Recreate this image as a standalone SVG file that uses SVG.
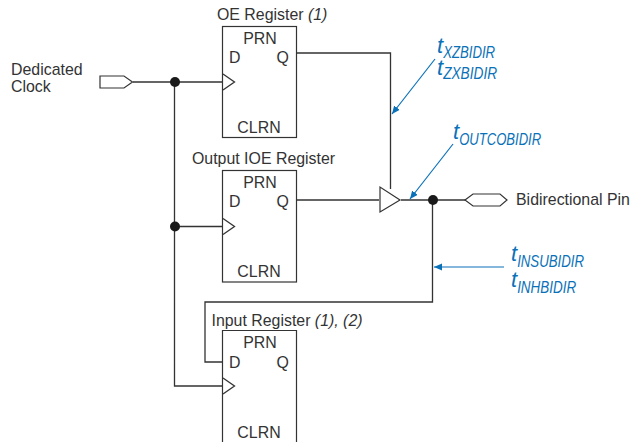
<svg xmlns="http://www.w3.org/2000/svg" width="633" height="442" viewBox="0 0 633 442">
<defs>
<marker id="a" markerUnits="userSpaceOnUse" markerWidth="9" markerHeight="8" refX="8" refY="3.500" orient="auto"><path d="M0 0L8 3.500L0 7Z" fill="#0a71b8"/></marker>
</defs>
<style>
text{font-family:"Liberation Sans",Arial,sans-serif;font-size:15.900px;fill:#333}
.i{font-style:italic}
.b{fill:#fff;stroke:#333;stroke-width:1.2}
.w{fill:none;stroke:#333;stroke-width:1.300}
.t{fill:#0a71b8;font-style:italic;font-size:22px}
.s{font-size:16px;fill:#0a71b8;font-style:italic}
.c{fill:none;stroke:#0a71b8;stroke-width:1.200;marker-end:url(#a)}
.d{fill:#1a1a1a}
.m{text-anchor:middle}
</style>
<g id="connectors">
<path class="w" d="M133 82H222M174.500 82V386H222M174.500 226.500H222M297 53H390.500V189M297 200H379M401 200H466M432.500 200V302H205V362H222"/>
<circle class="d" cx="175" cy="82" r="5"/>
<circle class="d" cx="175" cy="226.500" r="5"/>
<circle class="d" cx="433" cy="200" r="5"/>
</g>
<g id="callouts">
<path class="c" d="M435 59L392 114"/>
<path class="c" d="M453 144L410 199"/>
<path class="c" d="M504 267H434"/>
</g>
<g id="oe-register">
<text x="217" y="20">OE Register <tspan class="i">(1)</tspan></text>
<rect class="b" x="222.500" y="26.500" width="74" height="111"/>
<path class="w" d="M223 74L234.500 82L223 90"/>
<text class="m" x="260" y="44">PRN</text><text x="229" y="63">D</text><text x="276.500" y="63">Q</text><text class="m" x="259" y="133">CLRN</text>
</g>
<g id="output-ioe-register">
<text x="192" y="164">Output IOE Register</text>
<rect class="b" x="222.500" y="170.500" width="74" height="111.500"/>
<path class="w" d="M223 218.500L234.500 226.500L223 234.500"/>
<text class="m" x="260" y="188">PRN</text><text x="229" y="207">D</text><text x="276.500" y="207">Q</text><text class="m" x="259" y="277">CLRN</text>
</g>
<g id="input-register">
<text x="211.500" y="325.500">Input Register <tspan class="i">(1), (2)</tspan></text>
<path class="b" d="M222.500 443V330.500H296.500V443"/>
<path class="w" d="M223 378L234.500 386L223 394"/>
<text class="m" x="260" y="348">PRN</text><text x="229" y="368">D</text><text x="276.500" y="368">Q</text><text class="m" x="259" y="438">CLRN</text>
</g>
<g id="dedicated-clock">
<text x="11" y="75">Dedicated</text><text x="11" y="92">Clock</text>
<path class="b" d="M100 76H124L132.500 82L124 88H100Z"/>
</g>
<g id="buffer"><path class="b" d="M380 187V212L400 200Z"/></g>
<g id="bidirectional-pin">
<path class="b" d="M465 200L473 194H500L507 200L500 206H473Z"/>
<text x="516" y="205">Bidirectional Pin</text>
</g>
<g id="timing-labels">
<text class="t" x="437" y="53">t<tspan class="s" dy="5" textLength="52" lengthAdjust="spacingAndGlyphs">XZBIDIR</tspan></text>
<text class="t" x="437" y="75">t<tspan class="s" dy="4" textLength="54" lengthAdjust="spacingAndGlyphs">ZXBIDIR</tspan></text>
<text class="t" x="453" y="139">t<tspan class="s" dy="6" textLength="82" lengthAdjust="spacingAndGlyphs">OUTCOBIDIR</tspan></text>
<text class="t" x="511" y="261">t<tspan class="s" dy="6" textLength="67" lengthAdjust="spacingAndGlyphs">INSUBIDIR</tspan></text>
<text class="t" x="511" y="287">t<tspan class="s" dy="6" textLength="59" lengthAdjust="spacingAndGlyphs">INHBIDIR</tspan></text>
</g>
</svg>
